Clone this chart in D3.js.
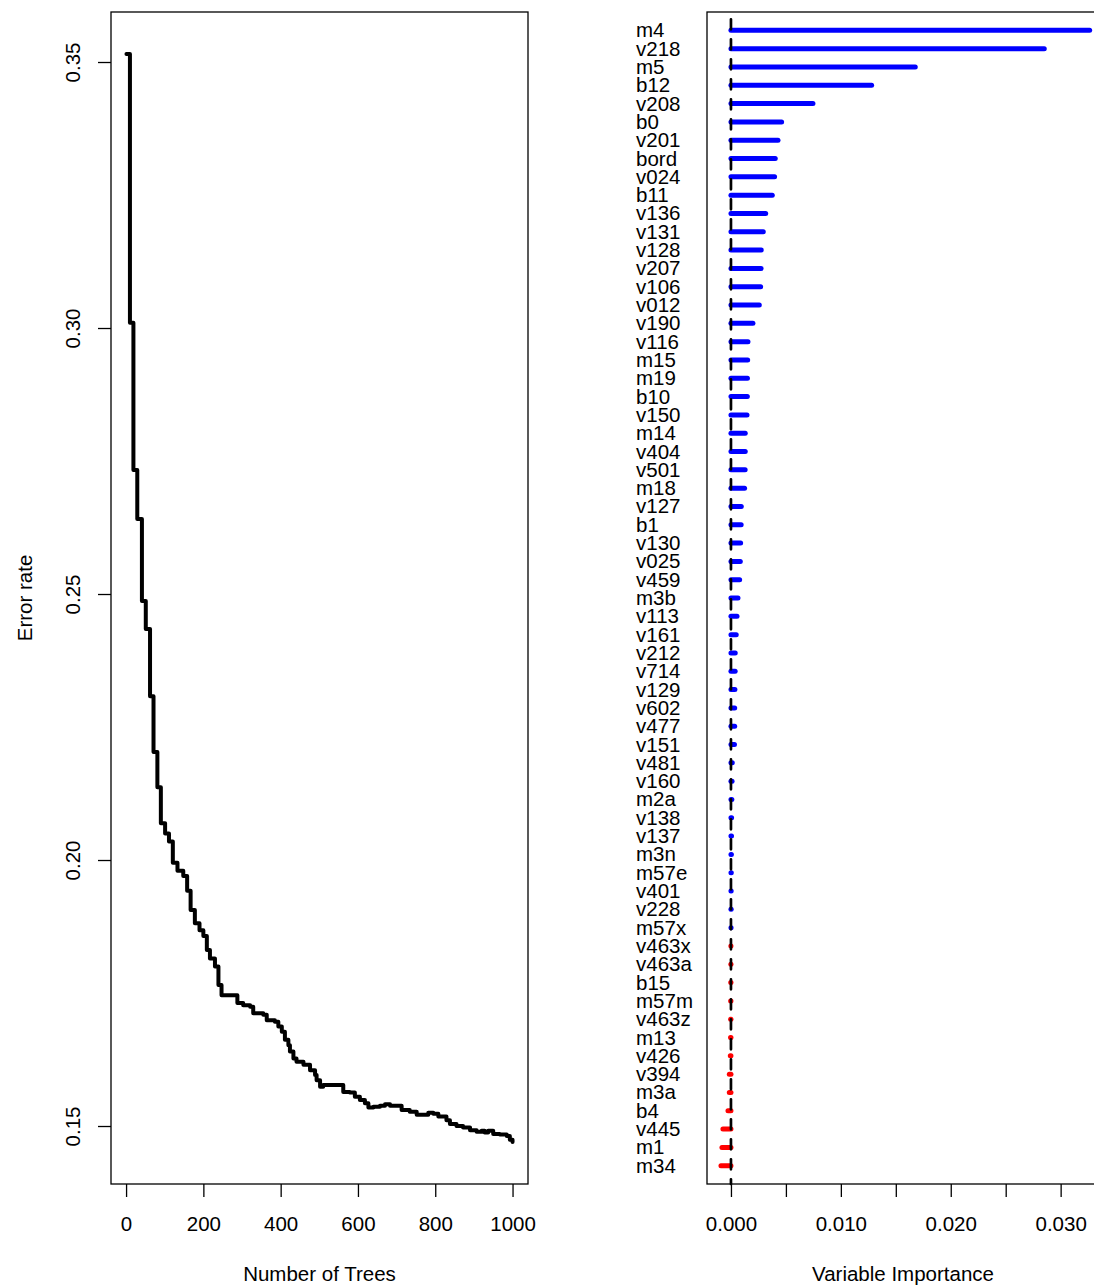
<!DOCTYPE html>
<html lang="en">
<head>
<meta charset="UTF-8">
<title>Random forest: error rate and variable importance</title>
<style>
  body { margin: 0; background: #fff; }
  svg { display: block; background: #fff; }
  .frame { fill: none; stroke: #000; stroke-width: 1.3px; }
  .lbl { font-family: "Liberation Sans", Arial, Helvetica, sans-serif; font-size: 20.5px; fill: #000; }
  .err-line { fill: none; stroke: #000; stroke-width: 4px; stroke-linejoin: round; stroke-linecap: round; }
  .imp-bar { stroke-width: 5px; stroke-linecap: round; }
  .zero-line { stroke: #000; stroke-width: 2.7px; stroke-dasharray: 10 10; stroke-linecap: round; }
</style>
</head>
<body>
<div id="chart"></div>
<script src="https://d3js.org/d3.v7.min.js"></script>
<script>
// OOB error: tree count where the error changes, and the new error value
const trees = [1, 10, 19, 29, 41, 51, 62, 71, 81, 90, 101, 111, 121, 133, 148, 158, 167, 178, 190, 200,
  209, 217, 230, 239, 247, 288, 303, 321, 329, 355, 364, 385, 394, 403, 411, 420, 424, 433, 441, 459,
  476, 489, 493, 502, 510, 562, 579, 592, 605, 618, 627, 640, 657, 670, 683, 713, 734, 752, 782, 795,
  808, 829, 838, 855, 872, 890, 907, 920, 928, 937, 950, 967, 985, 993, 1000];
const errorRate = [0.3515, 0.3010, 0.2733, 0.2641, 0.2487, 0.2434, 0.2308, 0.2203, 0.2137, 0.2069,
  0.2050, 0.2035, 0.1995, 0.1980, 0.1970, 0.1942, 0.1906, 0.1881, 0.1868, 0.1857,
  0.1831, 0.1815, 0.1800, 0.1765, 0.1746, 0.1731, 0.1727, 0.1724, 0.1712, 0.1709,
  0.1699, 0.1696, 0.1687, 0.1677, 0.1662, 0.1652, 0.1640, 0.1627, 0.1621, 0.1615,
  0.1605, 0.1596, 0.1586, 0.1574, 0.1577, 0.1564, 0.1563, 0.1555, 0.1549, 0.1543,
  0.1535, 0.1536, 0.1538, 0.1541, 0.1538, 0.1530, 0.1527, 0.1521, 0.1525, 0.1523,
  0.1518, 0.1511, 0.1504, 0.1500, 0.1497, 0.1492, 0.1489, 0.1491, 0.1488, 0.1491,
  0.1485, 0.1484, 0.1481, 0.1474, 0.1470];
const treeTicks = [0, 200, 400, 600, 800, 1000];
const errorTicks = [0.15, 0.20, 0.25, 0.30, 0.35];

// variable importance, top to bottom
const varNames = ["m4", "v218", "m5", "b12", "v208", "b0", "v201", "bord", "v024", "b11",
  "v136", "v131", "v128", "v207", "v106", "v012", "v190", "v116", "m15", "m19",
  "b10", "v150", "m14", "v404", "v501", "m18", "v127", "b1", "v130", "v025",
  "v459", "m3b", "v113", "v161", "v212", "v714", "v129", "v602", "v477", "v151",
  "v481", "v160", "m2a", "v138", "v137", "m3n", "m57e", "v401", "v228", "m57x",
  "v463x", "v463a", "b15", "m57m", "v463z", "m13", "v426", "v394", "m3a", "b4",
  "v445", "m1", "m34"];
const varImp = [0.03264, 0.02851, 0.01677, 0.01280, 0.00746, 0.00461, 0.00428, 0.00403, 0.00397, 0.00376,
  0.00316, 0.00294, 0.00276, 0.00274, 0.00270, 0.00258, 0.00200, 0.00155, 0.00152, 0.00150,
  0.00149, 0.00146, 0.00130, 0.00130, 0.00129, 0.00124, 0.00094, 0.00093, 0.00088, 0.00085,
  0.00079, 0.00064, 0.00055, 0.00048, 0.00039, 0.00038, 0.00036, 0.00034, 0.00034, 0.00032,
  0.00012, 0.00010, 0.00008, 0.00006, 0.00005, 0.00004, 0.00003, 0.00002, 0.00002, 0.00001,
  -0.00001, -0.00001, -0.00002, -0.00003, -0.00003, -0.00004, -0.00006, -0.00015, -0.00015, -0.00027,
  -0.00073, -0.00082, -0.00091];
const impTicks = [0, 0.005, 0.010, 0.015, 0.020, 0.025, 0.030];
const impTickLabels = [0, 0.010, 0.020, 0.030];

const W = 1094, H = 1287;
const plotTop = 12, plotBottom = 1184;
const fontFamily = '"Liberation Sans", Arial, Helvetica, sans-serif';

const svg = d3.select("#chart").append("svg")
    .attr("width", W)
    .attr("height", H);

// ---------- left panel: error rate ----------
const x1 = d3.scaleLinear().domain([-39, 1040]).range([111, 528]);
const y1 = d3.scaleLinear().domain([0.1391, 0.3594]).range([plotBottom, plotTop]);

const left = svg.append("g");

left.append("rect")
    .attr("class", "frame")
    .attr("x", x1.range()[0])
    .attr("y", plotTop)
    .attr("width", x1.range()[1] - x1.range()[0])
    .attr("height", plotBottom - plotTop);

const errLine = d3.line()
    .x(d => x1(d[0]))
    .y(d => y1(d[1]))
    .curve(d3.curveStepAfter);

left.append("path")
    .attr("class", "err-line")
    .attr("d", errLine(d3.zip(trees, errorRate)));

function styleAxis(g) {
  g.attr("font-size", 20.5).attr("font-family", fontFamily);
  g.select(".domain").remove();
  g.selectAll(".tick line").attr("stroke", "#000").attr("stroke-width", 1.3);
  g.selectAll(".tick text").attr("fill", "#000");
}

left.append("g")
    .attr("transform", `translate(0,${plotBottom})`)
    .call(d3.axisBottom(x1).tickValues(treeTicks).tickFormat(d3.format("d"))
        .tickSize(13).tickPadding(19))
    .call(styleAxis);

left.append("g")
    .attr("transform", `translate(${x1.range()[0]},0)`)
    .call(d3.axisLeft(y1).tickValues(errorTicks).tickFormat(d3.format(".2f")).tickSize(13))
    .call(styleAxis)
    .call(g => g.selectAll(".tick text")
        .attr("x", null).attr("dy", null)
        .attr("text-anchor", "middle")
        .attr("transform", "translate(-31,0) rotate(-90)"));

left.append("text")
    .attr("class", "lbl")
    .attr("x", (x1.range()[0] + x1.range()[1]) / 2)
    .attr("y", 1281)
    .attr("text-anchor", "middle")
    .text("Number of Trees");

left.append("text")
    .attr("class", "lbl")
    .attr("text-anchor", "middle")
    .attr("transform", `translate(32,${(plotTop + plotBottom) / 2}) rotate(-90)`)
    .text("Error rate");

// ---------- right panel: variable importance ----------
const x2 = d3.scaleLinear().domain([-0.00218, 0.034]).range([707, 1104.6]);
const y2 = d3.scaleLinear().domain([0, 64]).range([plotBottom, plotTop]);
const rowY = i => y2(varNames.length - i);

const right = svg.append("g");

right.append("rect")
    .attr("class", "frame")
    .attr("x", x2.range()[0])
    .attr("y", plotTop)
    .attr("width", x2.range()[1] - x2.range()[0])
    .attr("height", plotBottom - plotTop);

right.append("g")
    .selectAll("line")
    .data(varImp)
    .join("line")
    .attr("class", "imp-bar")
    .attr("stroke", d => d > 0 ? "#0000ff" : "#ff0000")
    .attr("x1", x2(0))
    .attr("x2", d => x2(d))
    .attr("y1", (d, i) => rowY(i))
    .attr("y2", (d, i) => rowY(i));

right.append("line")
    .attr("class", "zero-line")
    .attr("x1", x2(0))
    .attr("x2", x2(0))
    .attr("y1", y2(63.6))
    .attr("y2", y2(0));

right.append("g")
    .selectAll("text")
    .data(varNames)
    .join("text")
    .attr("class", "lbl")
    .attr("x", 636)
    .attr("y", (d, i) => rowY(i) + 7)
    .text(d => d);

const fmt3 = d3.format(".3f");
right.append("g")
    .attr("transform", `translate(0,${plotBottom})`)
    .call(d3.axisBottom(x2).tickValues(impTicks).tickSize(13).tickPadding(19)
        .tickFormat(d => impTickLabels.some(v => Math.abs(v - d) < 1e-9) ? fmt3(d) : ""))
    .call(styleAxis);

right.append("text")
    .attr("class", "lbl")
    .attr("x", 903)
    .attr("y", 1281)
    .attr("text-anchor", "middle")
    .text("Variable Importance");
</script>
</body>
</html>
